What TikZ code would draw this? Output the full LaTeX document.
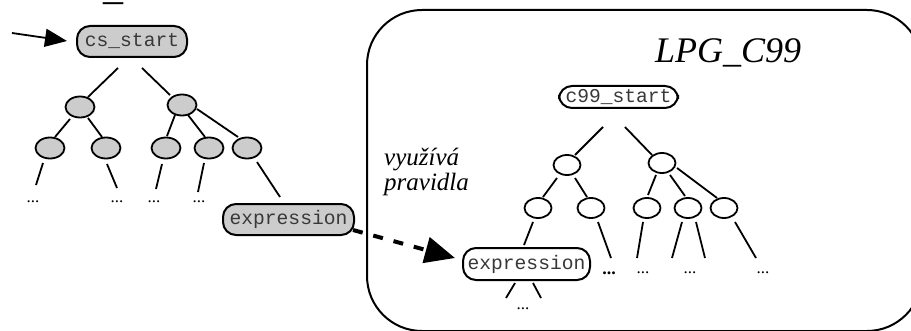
\documentclass[tikz,border=0pt]{standalone}
\usepackage{fontspec}
\setmainfont{Liberation Serif}
\newfontfamily\monofont{Liberation Mono}
\usetikzlibrary{shapes.geometric,arrows.meta}
\definecolor{nodegray}{HTML}{CCCCCC}
\definecolor{txtgray}{HTML}{383838}
\begin{document}
\begin{tikzpicture}[x=1pt,y=1pt,
  edge/.style={line width=1.8pt},
  codebox/.style={draw, rounded corners=13pt, line width=2pt, inner sep=0pt,
    font=\monofont\fontsize{19.6}{20}\selectfont, text=txtgray},
  graybox/.style={codebox, fill=nodegray, minimum height=31pt},
  whitebox/.style={codebox, fill=white},
  grayell/.style={ellipse, draw, fill=nodegray, line width=1.8pt, inner sep=0pt, minimum width=29pt, minimum height=21pt},
  whiteell/.style={ellipse, draw, fill=white, line width=1.8pt, inner sep=0pt, minimum width=27pt, minimum height=20pt},
  dots/.style={anchor=base, inner sep=0pt, font=\fontsize{17}{17}\selectfont},
  titlefont/.style={font=\itshape\fontsize{36}{36}\selectfont, inner sep=0pt}
]
\useasboundingbox (0,0) rectangle (911,330);

% fragment of cut-off title at the top edge
\begin{scope}
\clip (0,0) rectangle (911,330);
\node[titlefont, anchor=base west] (toptitle) at (103,330.5) {\fontsize{40}{40}\selectfont\_};
\end{scope}

% big frame
\begin{scope}
\clip (0,0) rectangle (911,330);
\draw[line width=2pt, rounded corners=55pt] (367,320) rectangle (922,-1);
\end{scope}

\node[titlefont, anchor=base west] (lpg) at (655,267) {LPG\_C99};
\node[font=\itshape\fontsize{25}{25}\selectfont, align=left, anchor=base west, inner sep=0pt] (uses) at (384,140) {využívá\\pravidla};

% ---------------- left tree ----------------
\node[graybox, minimum width=110pt] (cs) at (132,288.5) {cs\_start};
\node[grayell] (L1a) at (80,223) {};
\node[grayell] (L1b) at (182,225) {};
\node[grayell] (L2a) at (50,182) {};
\node[grayell] (L2b) at (106,182) {};
\node[grayell] (L2c) at (166,182) {};
\node[grayell] (L2d) at (209,182) {};
\node[grayell] (L2e) at (247,182) {};
\node[dots] (d1) at (33,127.5) {...};
\node[dots] (d2) at (117,127.5) {...};
\node[dots] (d3) at (154,127.5) {...};
\node[dots] (d4) at (199,127.5) {...};
\node[graybox, minimum width=131pt] (exprL) at (288.5,110.5) {expression};

\coordinate (entry) at (12,297);
\draw[line width=1.8pt, -{Triangle[length=22pt,width=18pt]}] (entry) -- ([shift={(-65,0.5)}]cs.center);

\draw[edge] ([shift={(-14,-26.5)}]cs.center) -- ([shift={(8,10)}]L1a.center);
\draw[edge] ([shift={(10,-26.5)}]cs.center) -- ([shift={(-12,10)}]L1b.center);
\draw[edge] ([shift={(-10,-12)}]L1a.center) -- ([shift={(5,11)}]L2a.center);
\draw[edge] ([shift={(8,-11)}]L1a.center) -- ([shift={(-4,11)}]L2b.center);
\draw[edge] ([shift={(-7,-10)}]L1b.center) -- ([shift={(1,12)}]L2c.center);
\draw[edge] ([shift={(6,-10)}]L1b.center) -- ([shift={(-4,11)}]L2d.center);
\draw[edge] ([shift={(15,-4)}]L1b.center) -- ([shift={(-9,11)}]L2e.center);
\draw[edge] ([shift={(-7,-15)}]L2a.center) -- ([shift={(3,17.5)}]d1.base);
\draw[edge] ([shift={(1,-16)}]L2b.center) -- ([shift={(0,14.5)}]d2.base);
\draw[edge] ([shift={(-4,-16)}]L2c.center) -- ([shift={(2,13.5)}]d3.base);
\draw[edge] ([shift={(-5,-15)}]L2d.center) -- ([shift={(-1,10.5)}]d4.base);
\draw[edge] ([shift={(10,-14)}]L2e.center) -- ([shift={(-8.5,22.5)}]exprL.center);

% ---------------- right tree ----------------
\node[whitebox, minimum width=119pt, minimum height=22pt] (c99) at (618.5,233) {c99\_start};
\node[whiteell] (R1a) at (567,165) {};
\node[whiteell] (R1b) at (662,167) {};
\node[whiteell] (R2a) at (538,122) {};
\node[whiteell] (R2b) at (591,122) {};
\node[whiteell] (R2c) at (647,122) {};
\node[whiteell] (R2d) at (688,122) {};
\node[whiteell] (R2e) at (724,122) {};
\node[whitebox, minimum width=127pt, minimum height=32pt] (exprR) at (526.5,66) {expression};
\node[dots, font=\bfseries\fontsize{18}{18}\selectfont] (e1) at (609,55.5) {...};
\node[dots] (e2) at (643,56.5) {...};
\node[dots] (e3) at (690,56.5) {...};
\node[dots] (e4) at (763,56.5) {...};
\node[dots] (e5) at (523,20.5) {...};

\draw[edge] ([shift={(-15.5,-30)}]c99.center) -- ([shift={(8,10)}]R1a.center);
\draw[edge] ([shift={(6.5,-30)}]c99.center) -- ([shift={(-10,8)}]R1b.center);
\draw[edge] ([shift={(-10,-13)}]R1a.center) -- ([shift={(5,11)}]R2a.center);
\draw[edge] ([shift={(8,-13)}]R1a.center) -- ([shift={(-4,11)}]R2b.center);
\draw[edge] ([shift={(-6,-12)}]R1b.center) -- ([shift={(1,13)}]R2c.center);
\draw[edge] ([shift={(8,-12)}]R1b.center) -- ([shift={(-3,12)}]R2d.center);
\draw[edge] ([shift={(15,-5)}]R1b.center) -- ([shift={(-7,10)}]R2e.center);
\draw[edge] ([shift={(-5,-14)}]R2a.center) -- ([shift={(-2.5,19)}]exprR.center);
\draw[edge] ([shift={(7,-14)}]R2b.center) -- ([shift={(2,16.5)}]e1.base);
\draw[edge] ([shift={(-4,-14)}]R2c.center) -- ([shift={(-6,15.5)}]e2.base);
\draw[edge] ([shift={(-6,-14)}]R2d.center) -- ([shift={(-18,15.5)}]e3.base);
\draw[edge] ([shift={(8,-14)}]R2d.center) -- ([shift={(15,15.5)}]e3.base);
\draw[edge] ([shift={(11,-14)}]R2e.center) -- ([shift={(-7,15.5)}]e4.base);
\draw[edge] ([shift={(-11.5,-19)}]exprR.center) -- ([shift={(-17,11.5)}]e5.base);
\draw[edge] ([shift={(6.5,-19)}]exprR.center) -- ([shift={(18,11.5)}]e5.base);

% dashed "uses" arrow
\draw[line width=4pt, dash pattern=on 10pt off 11pt, -{Triangle[length=30pt,width=26pt]}]
  ([shift={(64.5,-10.5)}]exprL.center) -- ([shift={(-71.5,6)}]exprR.center);
\end{tikzpicture}
\end{document}
